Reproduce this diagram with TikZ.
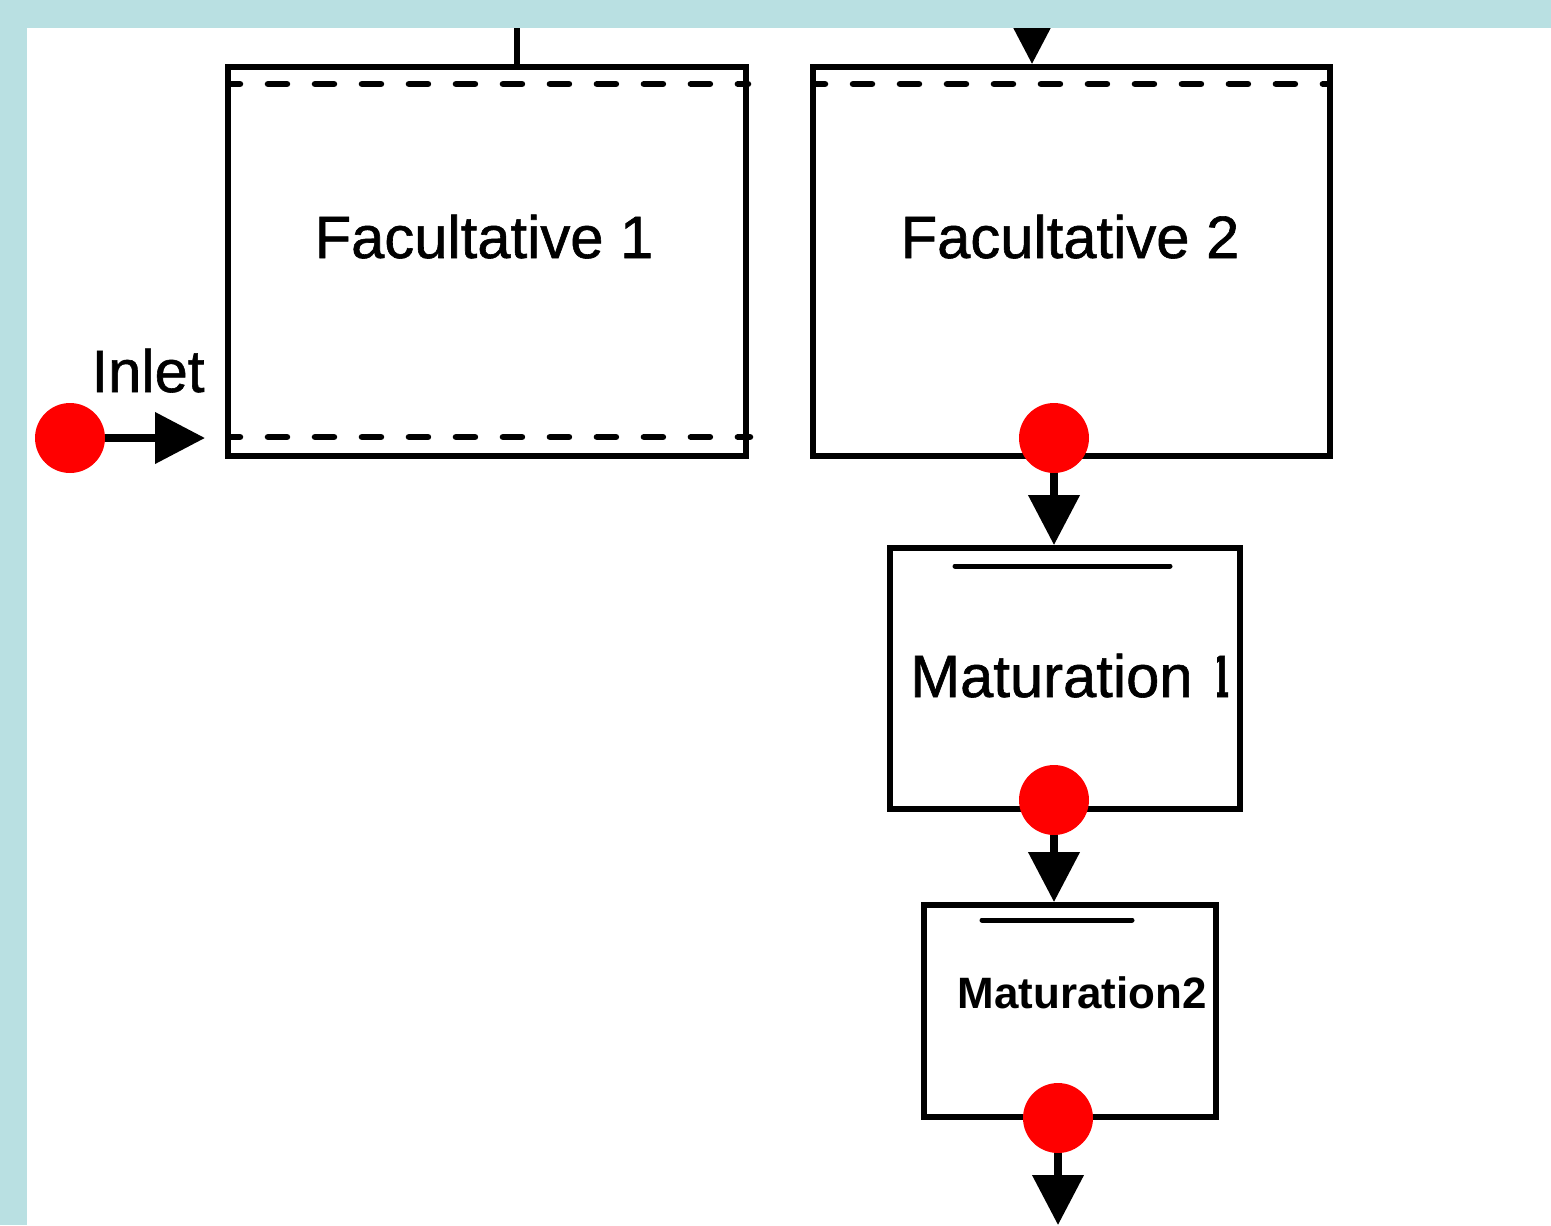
\documentclass[tikz,border=0pt]{standalone}
\usepackage{fontspec}
\setmainfont{Liberation Sans}
\usetikzlibrary{arrows.meta}
\definecolor{frameblue}{RGB}{185,224,226}
\definecolor{portred}{RGB}{255,0,0}

\begin{document}
\begin{tikzpicture}[x=0.02cm,y=-0.02cm]
\tikzstyle{every node}=[]
\tikzstyle{pond}=[draw, line width=0.12cm, inner sep=0pt]
\tikzstyle{port}=[circle, fill=portred, inner sep=0pt, minimum size=1.4cm]
\tikzstyle{flow}=[line width=0.15cm, -{Triangle[length=1cm,width=1cm]}]
\tikzstyle{screen}=[line width=0.13cm, line cap=round, dash pattern=on 0.38cm off 0.56cm, dash phase=0.2cm]
\tikzstyle{baffle}=[line width=0.1cm, line cap=round]
\tikzstyle{big}=[font=\fontsize{34}{40}\selectfont\addfontfeature{FakeBold=1}, inner sep=0pt, anchor=base]

\useasboundingbox (0,0) rectangle (1551,1225);
\fill[white] (0,0) rectangle (1551,1225);

% ponds
\node[pond, minimum width=10.36cm, minimum height=7.78cm] (F1) at ( 487, 261.5) {};
\node[pond, minimum width=10.34cm, minimum height=7.78cm] (F2) at (1071.5, 261.5) {};
\node[pond, minimum width=7cm,     minimum height=5.22cm] (M1) at (1065, 678.5) {};
\node[pond, minimum width=5.84cm,  minimum height=4.24cm] (M2) at (1070, 1011) {};

\draw[screen] (231,84) -- (748,84);
\draw[screen] (231,437) -- (750,437);
\draw[screen] (816,84) -- (1328,84);
\draw[baffle] (955,566) -- (1170,566);
\draw[baffle] (982,920) -- (1132,920);

% labels
\node[big] (F1t) at ( 484,258) {Facultative 1};
\node[big] (F2t) at (1070,258) {Facultative 2};
\node[big] (inl) at ( 148,392) {Inlet};
\node[big, anchor=base west] (M1t) at (910,697) {Maturation};
\begin{scope}
\clip (1217,650) rectangle (1228,702);
\node[big, anchor=base west] (M1n) at (1204,697) {1};
\end{scope}
\node[font=\fontsize{25}{30}\selectfont\bfseries, inner sep=0pt, anchor=base] (M2t) at (1082,1008) {Maturation2};

% ports
\node[port] (P0) at (  70, 438) {};
\node[port] (P1) at (1054, 438) {};
\node[port] (P2) at (1054, 800) {};
\node[port] (P3) at (1058,1118) {};

\coordinate (inend) at (205,438);
\coordinate (f1top) at (517,0);
\coordinate (f2in) at (1032,0);
\coordinate (out) at (1058,1225);

\draw[flow] (P0) -- (inend);
\draw[flow] (P1) -- (P1 |- M1.north);
\draw[flow] (P2) -- (P2 |- M2.north);
\draw[flow] (P3) -- (out);
\draw[flow] (f2in) -- (f2in |- F2.north);
\draw[line width=0.12cm] (f1top) -- (f1top |- F1.north);

% frame
\fill[frameblue] (0,0) rectangle (1551,28);
\fill[frameblue] (0,0) rectangle (27,1225);
\end{tikzpicture}
\end{document}
